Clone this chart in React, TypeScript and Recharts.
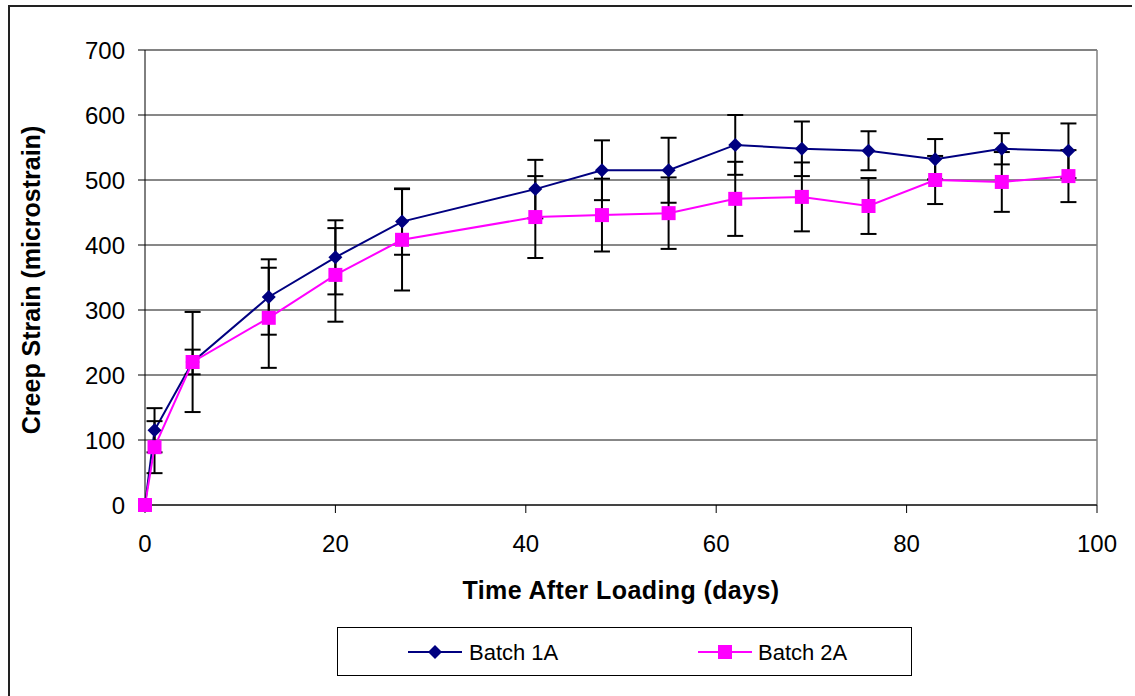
import React from 'react';
import { LineChart, Line, XAxis, YAxis, CartesianGrid, ErrorBar, ReferenceLine, Legend, Label } from 'recharts';

const days = [0, 1, 5, 13, 20, 27, 41, 48, 55, 62, 69, 76, 83, 90, 97];
const batch1A = [0, 115, 220, 320, 381, 436, 486, 515, 515, 554, 548, 545, 532, 548, 545];
const batch1AErr = [0, 34, 77, 58, 57, 51, 45, 46, 50, 46, 42, 30, 31, 24, 42];
const batch2A = [0, 89, 220, 288, 354, 408, 443, 446, 449, 471, 474, 460, 500, 497, 506];
const batch2AErr = [0, 40, 19, 77, 72, 78, 63, 56, 55, 57, 53, 43, 37, 46, 40];

const xTicks = [0, 20, 40, 60, 80, 100];
const yTicks = [0, 100, 200, 300, 400, 500, 600, 700];

const NAVY = '#000080';
const PINK = '#FF00FF';
const FONT = '"Liberation Sans", Arial, sans-serif';

const data = days.map((d, i) => ({
  day: d,
  b1: batch1A[i],
  b1Err: batch1AErr[i],
  b2: batch2A[i],
  b2Err: batch2AErr[i],
}));

const Diamond = (props: any) => {
  const { cx, cy, index } = props;
  const r = 7;
  return (
    <polygon
      key={`d-${index}`}
      points={`${cx},${cy - r} ${cx + r},${cy} ${cx},${cy + r} ${cx - r},${cy}`}
      fill={NAVY}
    />
  );
};

const Square = (props: any) => {
  const { cx, cy, index } = props;
  const s = 14;
  return <rect key={`s-${index}`} x={cx - s / 2} y={cy - s / 2} width={s} height={s} fill={PINK} />;
};

const LegendBox = () => (
  <div
    style={{
      width: 575,
      height: 49,
      border: '1px solid #000',
      boxSizing: 'border-box',
      position: 'relative',
      fontFamily: FONT,
      fontSize: 22,
      background: '#fff',
    }}
  >
    <svg width={575} height={49} style={{ position: 'absolute', left: 0, top: 0 }}>
      <line x1={70} y1={24} x2={124} y2={24} stroke={NAVY} strokeWidth={2} />
      <polygon points="97,17 104,24 97,31 90,24" fill={NAVY} />
      <text x={131} y={32} fontSize={22} fontFamily={FONT} fill="#000">Batch 1A</text>
      <line x1={360} y1={24} x2={414} y2={24} stroke={PINK} strokeWidth={2} />
      <rect x={380} y={17} width={14} height={14} fill={PINK} />
      <text x={420} y={32} fontSize={22} fontFamily={FONT} fill="#000">Batch 2A</text>
    </svg>
  </div>
);

export default function App() {
  return (
    <div style={{ position: 'absolute', left: 0, top: 0, width: 1135, height: 696, background: '#fff' }}>
      {/* outer chart frame */}
      <div
        style={{
          position: 'absolute',
          left: 8,
          top: 5,
          width: 1122,
          height: 700,
          borderLeft: '2px solid #222',
          borderTop: '2px solid #222',
        }}
      />
      <div style={{ position: 'absolute', left: 0, top: 0 }}>
        <LineChart width={1135} height={696} data={data} margin={{ top: 50, right: 38, bottom: 161, left: 0 }}>
          <CartesianGrid vertical={false} stroke="#111" />
          <XAxis
            dataKey="day"
            type="number"
            domain={[0, 100]}
            ticks={xTicks}
            height={30}
            tickSize={8}
            tickMargin={22}
            stroke="#000"
            tick={{ fill: '#000', fontSize: 24, fontFamily: FONT }}
          >
            <Label
              content={() => (
                <text
                  x={621}
                  y={599}
                  textAnchor="middle"
                  fontSize={25}
                  fontWeight="bold"
                  fontFamily={FONT}
                  letterSpacing={0.4}
                  fill="#000"
                >
                  Time After Loading (days)
                </text>
              )}
            />
          </XAxis>
          <YAxis
            type="number"
            domain={[0, 700]}
            ticks={yTicks}
            width={145}
            tickSize={7}
            tickMargin={13}
            stroke="#000"
            tick={{ fill: '#000', fontSize: 24, fontFamily: FONT }}
          >
            <Label
              content={() => (
                <text
                  x={40}
                  y={280}
                  transform="rotate(-90 40 280)"
                  textAnchor="middle"
                  fontSize={25}
                  fontWeight="bold"
                  fontFamily={FONT}
                  fill="#000"
                >
                  Creep Strain (microstrain)
                </text>
              )}
            />
          </YAxis>
          <ReferenceLine y={700} stroke="#808080" strokeWidth={1.5} />
          <ReferenceLine x={100} stroke="#808080" strokeWidth={1.5} />
          <Line
            dataKey="b1"
            name="Batch 1A"
            stroke={NAVY}
            strokeWidth={2}
            dot={Diamond}
            isAnimationActive={false}
          >
            <ErrorBar dataKey="b1Err" direction="y" width={8} stroke="#000" strokeWidth={2} />
          </Line>
          <Line
            dataKey="b2"
            name="Batch 2A"
            stroke={PINK}
            strokeWidth={2}
            dot={Square}
            isAnimationActive={false}
          >
            <ErrorBar dataKey="b2Err" direction="y" width={8} stroke="#000" strokeWidth={2} />
          </Line>
          <Legend
            layout="horizontal"
            verticalAlign="middle"
            align="center"
            wrapperStyle={{ left: 337, top: 627, width: 575, height: 49 }}
            content={() => <LegendBox />}
          />
        </LineChart>
      </div>
    </div>
  );
}
